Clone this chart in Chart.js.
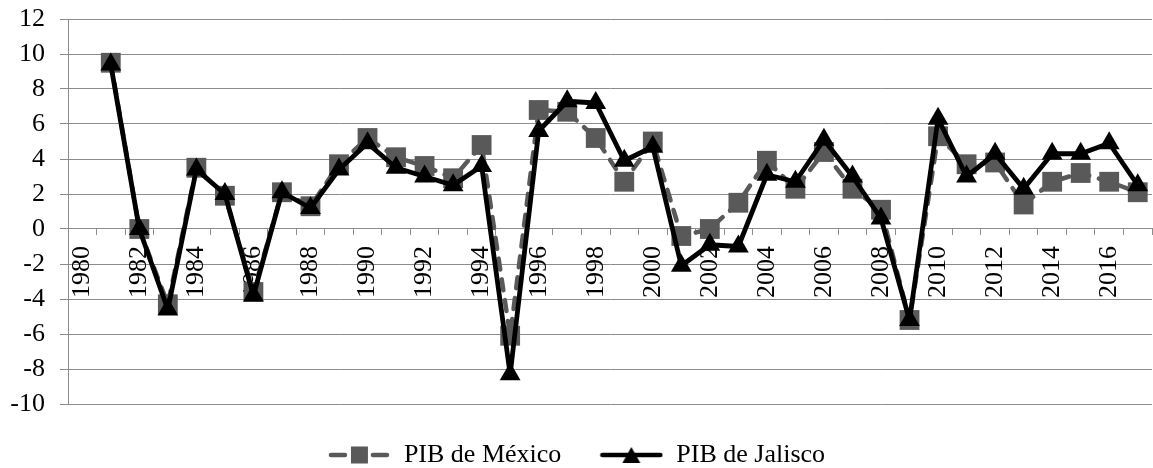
<!DOCTYPE html>
<html>
<head>
<meta charset="utf-8">
<script src="https://cdn.jsdelivr.net/npm/chart.js@4.4.1/dist/chart.umd.min.js"></script>
<style>
  html, body { margin: 0; padding: 0; background: #ffffff; }
  #wrap { width: 1153px; height: 468px; }
</style>
</head>
<body>
<div id="wrap"><canvas id="pib" width="1153" height="468"></canvas></div>
<script>
// Annual GDP growth (%), 1980-2017
const years = ['1980','1981','1982','1983','1984','1985','1986','1987','1988','1989',
               '1990','1991','1992','1993','1994','1995','1996','1997','1998','1999',
               '2000','2001','2002','2003','2004','2005','2006','2007','2008','2009',
               '2010','2011','2012','2013','2014','2015','2016','2017'];

const pibMexico = [null, 9.5, 0.0, -4.3, 3.5, 1.9, -3.6, 2.1, 1.3, 3.7,
                   5.2, 4.1, 3.6, 2.9, 4.8, -6.1, 6.8, 6.7, 5.2, 2.7,
                   5.0, -0.4, 0.0, 1.5, 3.9, 2.3, 4.4, 2.3, 1.1, -5.2,
                   5.3, 3.7, 3.8, 1.4, 2.7, 3.2, 2.7, 2.1];

const pibJalisco = [null, 9.4, 0.0, -4.6, 3.4, 2.0, -3.8, 2.1, 1.2, 3.4,
                    4.9, 3.5, 3.0, 2.5, 3.6, -8.3, 5.6, 7.3, 7.2, 3.9,
                    4.7, -2.1, -0.9, -1.0, 3.1, 2.7, 5.1, 3.0, 0.6, -5.2,
                    6.3, 3.0, 4.3, 2.3, 4.3, 4.3, 4.9, 2.5];

const yMin = -10;
const yMax = 12;
const yStep = 2;

const seriesNames = ['PIB de México', 'PIB de Jalisco'];

const SERIF = "'Liberation Serif', 'Times New Roman', serif";
const FONT_SIZE = 26;
const GRID = '#8c8c8c';
const MEX_COLOR = '#595959';
const JAL_COLOR = '#000000';

// Legend keys: a short stretch of line with the marker in the middle
function legendKey(kind) {
  const c = document.createElement('canvas');
  c.width = 64; c.height = 24;
  const g = c.getContext('2d');
  g.lineCap = 'round';
  g.lineWidth = 4.5;
  if (kind === 'mex') {
    g.strokeStyle = MEX_COLOR; g.fillStyle = MEX_COLOR;
    g.beginPath(); g.moveTo(4, 12); g.lineTo(18, 12); g.stroke();
    g.beginPath(); g.moveTo(46, 12); g.lineTo(60, 12); g.stroke();
    g.fillRect(24, 3.5, 17, 17);
  } else {
    g.strokeStyle = JAL_COLOR; g.fillStyle = JAL_COLOR;
    g.beginPath(); g.moveTo(3, 12); g.lineTo(61, 12); g.stroke();
    g.beginPath(); g.moveTo(32, 4); g.lineTo(41, 20); g.lineTo(23, 20); g.closePath(); g.fill();
  }
  return c;
}
const keys = [legendKey('mex'), legendKey('jal')];

new Chart(document.getElementById('pib'), {
  type: 'line',
  data: {
    labels: years,
    datasets: [
      {
        label: seriesNames[0],
        data: pibMexico,
        order: 2,
        borderColor: MEX_COLOR,
        backgroundColor: MEX_COLOR,
        borderWidth: 4.5,
        borderDash: [11, 10],
        borderCapStyle: 'round',
        borderJoinStyle: 'round',
        pointStyle: 'rect',
        pointRadius: 14,
        pointBackgroundColor: MEX_COLOR,
        pointBorderWidth: 0,
        tension: 0,
        spanGaps: false
      },
      {
        label: seriesNames[1],
        data: pibJalisco,
        order: 1,
        borderColor: JAL_COLOR,
        backgroundColor: JAL_COLOR,
        borderWidth: 4.8,
        borderJoinStyle: 'round',
        pointStyle: 'triangle',
        pointRadius: 12,
        pointBackgroundColor: JAL_COLOR,
        pointBorderWidth: 0,
        tension: 0,
        spanGaps: false
      }
    ]
  },
  options: {
    responsive: false,
    animation: false,
    devicePixelRatio: 1,
    layout: { autoPadding: false, padding: { top: 19, right: 1, bottom: -10, left: 0 } },
    scales: {
      x: {
        type: 'category',
        offset: true,
        position: { y: 0 },
        afterFit: function (s) { s.paddingLeft = 0; s.paddingRight = 0; s.paddingTop = 0; s.paddingBottom = 0; },
        grid: { offset: true, drawOnChartArea: false, drawTicks: true, tickLength: 6, color: GRID, lineWidth: 1 },
        border: { color: GRID, width: 1 },
        ticks: {
          autoSkip: false,
          minRotation: 90,
          maxRotation: 90,
          padding: 11,
          color: '#000',
          font: { family: SERIF, size: FONT_SIZE },
          callback: function (value, index) {
            return index % 2 === 0 ? this.getLabelForValue(value) : '';
          }
        }
      },
      y: {
        min: yMin,
        max: yMax,
        afterFit: function (s) { s.width = 68; s.paddingTop = 0; s.paddingBottom = 0; },
        grid: { color: GRID, lineWidth: 1, tickLength: 8 },
        border: { color: GRID, width: 1 },
        ticks: {
          stepSize: yStep,
          padding: 15,
          color: '#000',
          font: { family: SERIF, size: FONT_SIZE }
        }
      }
    },
    plugins: {
      tooltip: { enabled: false },
      legend: {
        position: 'bottom',
        labels: {
          usePointStyle: true,
          pointStyleWidth: 64,
          padding: 38,
          color: '#000',
          font: { family: SERIF, size: FONT_SIZE },
          sort: function (a, b) { return a.datasetIndex - b.datasetIndex; },
          generateLabels: function (chart) {
            const items = Chart.defaults.plugins.legend.labels.generateLabels(chart);
            items.forEach(function (it) { it.pointStyle = keys[it.datasetIndex]; });
            return items;
          }
        }
      }
    }
  }
});
</script>
</body>
</html>
